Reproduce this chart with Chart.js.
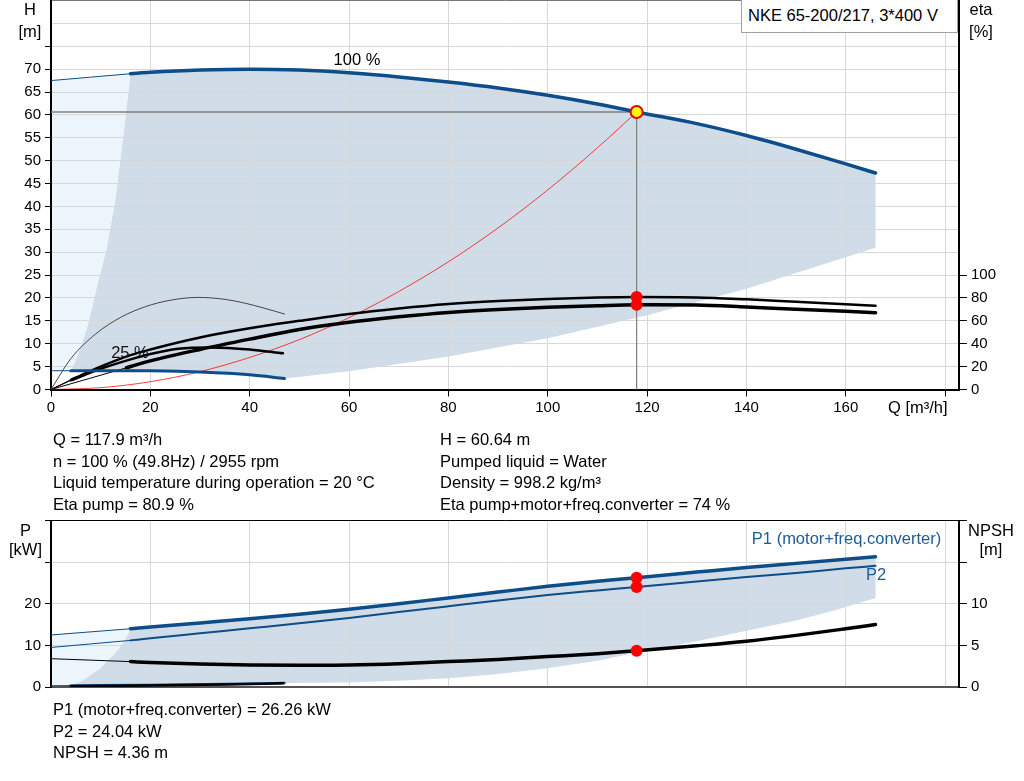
<!DOCTYPE html>
<html>
<head>
<meta charset="utf-8">
<script src="https://cdn.jsdelivr.net/npm/chart.js@4.4.1/dist/chart.umd.min.js"></script>
<style>
body { margin: 0; background: #fff; width: 1024px; height: 781px; overflow: hidden; position: relative;
       font-family: Arial, "Liberation Sans", sans-serif; font-size: 16.5px; color: #000; }
canvas { position: absolute; left: 0; }
#topChart { top: 0; }
#bottomChart { top: 505px; }
.lbl { position: absolute; white-space: nowrap; line-height: 21.5px; }
.ctr { text-align: center; }
#titleBox { position: absolute; left: 741px; top: -1px; width: 217px; height: 34px; border: 1px solid #a0a0a0;
            background: #fff; box-sizing: border-box; padding-left: 6px; line-height: 30px; white-space: nowrap; }
</style>
</head>
<body>
<canvas id="topChart" width="1024" height="420"></canvas>
<canvas id="bottomChart" width="1024" height="200"></canvas>

<div id="titleBox">NKE 65-200/217, 3*400 V</div>
<div class="lbl ctr" style="left:10px; top:-0.75px; width:40px;">H<br>[m]</div>
<div class="lbl ctr" style="left:961px; top:-0.75px; width:40px;">eta<br>[%]</div>
<div class="lbl" style="left:888px; top:396.75px;">Q [m³/h]</div>
<div class="lbl ctr" style="left:0px; top:520.5px; width:51px; line-height:19px;">P<br>[kW]</div>
<div class="lbl ctr" style="left:965px; top:520.5px; width:52px; line-height:19px;">NPSH<br>[m]</div>

<div class="lbl" style="left:53px; top:429.25px;">Q = 117.9 m³/h<br>n = 100 % (49.8Hz) / 2955 rpm<br>Liquid temperature during operation = 20 °C<br>Eta pump = 80.9 %</div>
<div class="lbl" style="left:440px; top:429.25px;">H = 60.64 m<br>Pumped liquid = Water<br>Density = 998.2 kg/m³<br>Eta pump+motor+freq.converter = 74 %</div>
<div class="lbl" style="left:53px; top:699.25px;">P1 (motor+freq.converter) = 26.26 kW<br>P2 = 24.04 kW<br>NPSH = 4.36 m</div>

<script>
// ---- flow axis ----
const qTicks = [0, 20, 40, 60, 80, 100, 120, 140, 160, 180];
const qMax = 182.8;

// ---- head curves (m) ----
const q100 = [16, 20, 30, 40, 50, 60, 70, 80, 90, 100, 110, 117.9, 130, 140, 150, 160, 166];
const h100 = [69.0, 69.3, 69.8, 70.0, 69.8, 69.2, 68.3, 67.2, 65.9, 64.3, 62.4, 60.64, 58.1, 55.5, 52.5, 49.3, 47.3];
const q100Thin = [0, 16];
const h100Thin = [67.5, 69.0];
const q25 = [4, 10, 20, 30, 40, 47];
const h25 = [4.1, 4.1, 4.1, 3.8, 3.2, 2.4];
const q25Thin = [0, 4];
const h25Thin = [4.1, 4.1];

// edges of the operating area (head chart)
const qAreaLeft = [4, 5, 6.2, 7.5, 8.5, 9.5, 11.1, 12.9, 14.5, 16];
const hAreaLeft = [4.1, 6.5, 10, 14.5, 19, 23.7, 30.3, 41.2, 55, 69.0];
const qAreaLow = [47, 60, 80, 100, 120, 140, 166];
const hAreaLow = [2.4, 4.0, 7.2, 11.2, 16.2, 22.0, 31.0];

// system curve through the duty point
const qSys = [0, 10, 20, 30, 40, 50, 60, 70, 80, 90, 100, 110, 117.9];
const hSys = [0, 0.4, 1.7, 3.9, 7.0, 10.9, 15.7, 21.4, 27.9, 35.3, 43.6, 52.8, 60.64];

// ---- efficiency curves (%) ----
const qEtaPump = [4, 10, 16, 20, 30, 40, 50, 60, 70, 80, 90, 100, 110, 117.9, 130, 140, 150, 160, 166];
const etaPump = [8.5, 20, 30, 35, 45.5, 53.5, 60, 66, 70.8, 74.7, 77.3, 79.1, 80.4, 80.9, 80.5, 78.8, 76.7, 74.5, 73.2];
const qEtaPumpThin = [0, 4];
const etaPumpThin = [0, 8.5];
const qEtaTotal = [15.2, 20, 30, 40, 50, 60, 70, 80, 90, 100, 110, 117.9, 130, 140, 150, 160, 166];
const etaTotal = [19, 25, 35, 44, 52.5, 58.7, 63.5, 67.4, 70, 71.8, 73.2, 74, 73.8, 72.1, 70.1, 68.3, 67.1];
const qEtaTotalThin = [0, 15.2];
const etaTotalThin = [0, 19];
const qEta25Pump = [0, 4, 9, 14, 19, 24, 29.6, 35, 39, 43, 47];
const eta25Pump = [0, 27, 48.6, 63, 72.4, 78, 80.5, 78.8, 75.5, 71, 66];
const qEta25Total = [4, 10, 15, 20, 25.6, 32.3, 40, 46.7];
const eta25Total = [8, 18, 25, 31, 35.6, 36.8, 35, 31.6];
const qEta25TotalThin = [0, 4];
const eta25TotalThin = [0, 8];

// ---- power (kW) and NPSH (m) ----
const qP = [16, 20, 30, 40, 50, 60, 70, 80, 90, 100, 110, 117.9, 130, 140, 150, 160, 166];
const p1 = [14.0, 14.4, 15.4, 16.4, 17.5, 18.7, 20.0, 21.4, 22.8, 24.2, 25.4, 26.26, 27.6, 28.7, 29.7, 30.7, 31.3];
const p2 = [11.2, 11.7, 12.9, 14.1, 15.3, 16.6, 18.0, 19.4, 20.8, 22.1, 23.2, 24.04, 25.35, 26.4, 27.4, 28.5, 29.1];
const npsh = [3.05, 2.95, 2.75, 2.65, 2.62, 2.65, 2.8, 3.05, 3.3, 3.65, 4.0, 4.36, 4.95, 5.5, 6.2, 7.0, 7.5];
const qPThin = [0, 16];
const p1Thin = [12.5, 14.0];
const p2Thin = [9.5, 11.2];
const npshThin = [3.4, 3.05];
const qPLow = [4, 20, 35, 47];
const p1Low = [0.35, 0.5, 0.7, 0.95];
const qPLowThin = [0, 4];
const p1LowThin = [0.3, 0.35];
const qNpshLow = [4, 23, 35, 46.7];
const npshLow = [0.1, 0.2, 0.3, 0.45];

// edges of the operating area (power chart)
const qAreaPLeft = [4, 6.5, 9.9, 13.2, 15, 16];
const pAreaLeft = [0.35, 1.7, 4.5, 8.5, 11.5, 14.0];
const qAreaPLow = [47, 60, 70, 80, 90, 100, 110, 118, 130, 140, 150, 158, 166];
const pAreaLow = [0.95, 1.1, 1.5, 2.1, 3.1, 4.5, 6.3, 8.3, 11.0, 13.5, 16.0, 18.5, 21.4];

// ---- duty point ----
const dutyQ = 117.9;
const dutyH = 60.64;
const dutyEtaPump = 80.9;
const dutyEtaTotal = 74;
const dutyP1 = 26.26;
const dutyP2 = 24.04;
const dutyNpsh = 4.36;

const FONT = 'Arial, "Liberation Sans", sans-serif';
const BLUE = 'rgb(12,77,138)';
const GRID = 'rgb(216,216,216)';
const AREA = 'rgb(208,220,231)';
const AREA_LIGHT = 'rgb(237,245,252)';
const NONE = 'rgba(0,0,0,0)';

Chart.defaults.font.family = FONT;
Chart.defaults.font.size = 15;
Chart.defaults.color = '#000';

function pts(xs, ys) {
    return xs.map((x, i) => ({ x: x, y: ys[i] }));
}

function curve(data, color, width, axis, order) {
    return {
        data: data, showLine: true, borderColor: color, borderWidth: width,
        pointRadius: 0, fill: false, cubicInterpolationMode: 'monotone',
        yAxisID: axis || 'y', order: order || 5, borderCapStyle: 'round'
    };
}

function area(data, color) {
    return {
        data: data, showLine: true, borderWidth: 0, borderColor: NONE,
        backgroundColor: color, fill: 'shape', pointRadius: 0, tension: 0, order: 20
    };
}

function dot(x, y, axis, fillColor, border) {
    return {
        data: [{ x: x, y: y }], showLine: false, pointRadius: 6, pointHoverRadius: 6,
        backgroundColor: fillColor, borderColor: border || fillColor, borderWidth: border ? 2 : 0,
        yAxisID: axis || 'y', order: 0
    };
}

// fixed axis sizes, no automatic padding around the plot
function fixSize(w, h) {
    return function (scale) {
        if (w !== null) scale.width = w;
        if (h !== null) scale.height = h;
        scale.paddingTop = 0; scale.paddingBottom = 0;
        scale.paddingLeft = 0; scale.paddingRight = 0;
    };
}

// unlabeled ticks get an empty array so they take no room
function labelUpTo(limit) {
    return v => v <= limit ? v : [];
}

const curveLabels = {
    id: 'curveLabels',
    afterDatasetsDraw(chart, args, opts) {
        const ctx = chart.ctx;
        ctx.save();
        ctx.font = '16.5px ' + FONT;
        ctx.textBaseline = 'middle';
        opts.items.forEach(function (it) {
            ctx.fillStyle = it.color;
            ctx.textAlign = it.align;
            ctx.fillText(it.text, chart.scales.x.getPixelForValue(it.x), chart.scales[it.axis].getPixelForValue(it.y));
        });
        ctx.restore();
    }
};

function xScale(showTicks, h) {
    return {
        type: 'linear', min: 0, max: qMax,
        afterBuildTicks: s => { s.ticks = qTicks.map(v => ({ value: v })); },
        afterFit: fixSize(null, h),
        grid: { color: GRID, tickColor: '#000', tickLength: 7, drawTicks: showTicks },
        border: { color: showTicks ? '#000' : '#555', width: 2 },
        ticks: { display: showTicks, padding: 2, autoSkip: false, maxRotation: 0, callback: labelUpTo(160) }
    };
}

// ---------- top chart: head + efficiency ----------
const topGray = pts(qAreaLeft, hAreaLeft)
    .concat(pts(q100, h100).slice(1))
    .concat(pts(qAreaLow, hAreaLow).reverse())
    .concat(pts(q25, h25).reverse());
const topLight = pts(q100Thin, h100Thin)
    .concat(pts(qAreaLeft, hAreaLeft).reverse())
    .concat(pts(q25Thin, h25Thin).reverse());

new Chart(document.getElementById('topChart'), {
    type: 'scatter',
    data: {
        datasets: [
            area(topLight, AREA_LIGHT),
            area(topGray, AREA),
            curve(pts([0, dutyQ], [dutyH, dutyH]), 'rgb(128,128,128)', 1.5, 'y', 9),
            curve(pts([dutyQ, dutyQ], [0, dutyH]), 'rgb(128,128,128)', 1.2, 'y', 9),
            curve(pts(qSys, hSys), 'rgba(255,0,0,0.75)', 1, 'y', 8),
            curve(pts(qEta25Pump, eta25Pump), 'rgb(70,70,70)', 1, 'y2', 7),
            curve(pts(qEtaPumpThin, etaPumpThin), '#000', 1, 'y2', 7),
            curve(pts(qEtaTotalThin, etaTotalThin), '#000', 1, 'y2', 7),
            curve(pts(qEta25TotalThin, eta25TotalThin), '#000', 1, 'y2', 7),
            curve(pts(qEta25Total, eta25Total), '#000', 2.5, 'y2', 6),
            curve(pts(qEtaPump, etaPump), '#000', 2.5, 'y2', 5),
            curve(pts(qEtaTotal, etaTotal), '#000', 3.5, 'y2', 5),
            curve(pts(q100Thin, h100Thin), BLUE, 1, 'y', 5),
            curve(pts(q25Thin, h25Thin), BLUE, 1, 'y', 5),
            curve(pts(q25, h25), BLUE, 3, 'y', 4),
            curve(pts(q100, h100), BLUE, 3.5, 'y', 4),
            dot(dutyQ, dutyEtaPump, 'y2', 'rgb(255,0,0)'),
            dot(dutyQ, dutyEtaTotal, 'y2', 'rgb(255,0,0)'),
            dot(dutyQ, dutyH, 'y', 'rgb(255,255,0)', 'rgb(230,0,0)')
        ]
    },
    options: {
        responsive: false, animation: false, events: [],
        layout: { autoPadding: false, padding: { top: 0.5, left: 0, right: 0, bottom: 0 } },
        plugins: {
            legend: { display: false }, tooltip: { enabled: false },
            filler: { drawTime: 'beforeDraw' },
            curveLabels: { items: [
                { text: '100 %', x: 61.6, y: 72.0, axis: 'y', color: '#000', align: 'center' },
                { text: '25 %', x: 15.9, y: 7.8, axis: 'y', color: '#111', align: 'center' }
            ] }
        },
        scales: {
            x: xScale(true, 30.5),
            y: {
                type: 'linear', position: 'left', min: 0, max: 85,
                afterFit: fixSize(51, null),
                grid: { color: c => c.tick && c.tick.value === 85 ? '#777' : GRID,
                        tickColor: c => c.tick && c.tick.value > 75 ? NONE : '#000', tickLength: 6 },
                border: { color: '#000', width: 2 },
                ticks: { stepSize: 5, padding: 4, autoSkip: false, callback: labelUpTo(70) }
            },
            y2: {
                type: 'linear', position: 'right', min: 0, max: 340,
                afterBuildTicks: s => { s.ticks = [0, 20, 40, 60, 80, 100, 340].map(v => ({ value: v })); },
                afterFit: fixSize(65, null),
                grid: { drawOnChartArea: false, tickColor: c => c.tick && c.tick.value > 100 ? NONE : '#000', tickLength: 8 },
                border: { color: '#000', width: 2 },
                ticks: { padding: 4, autoSkip: false, callback: labelUpTo(100) }
            }
        }
    },
    plugins: [curveLabels]
});

// ---------- bottom chart: power + NPSH ----------
const botGray = pts(qAreaPLeft, pAreaLeft)
    .concat(pts(qP, p1).slice(1))
    .concat(pts(qAreaPLow, pAreaLow).reverse())
    .concat(pts(qPLow, p1Low).reverse());
const botLight = pts(qPThin, p1Thin)
    .concat(pts(qAreaPLeft, pAreaLeft).reverse())
    .concat(pts(qPLowThin, p1LowThin).reverse());

new Chart(document.getElementById('bottomChart'), {
    type: 'scatter',
    data: {
        datasets: [
            area(botLight, AREA_LIGHT),
            area(botGray, AREA),
            curve(pts(qPThin, p1Thin), BLUE, 1, 'y', 7),
            curve(pts(qPThin, p2Thin), BLUE, 1, 'y', 7),
            curve(pts(qPThin, npshThin), '#000', 1, 'y2', 7),
            curve(pts(qPLowThin, p1LowThin), BLUE, 1, 'y', 7),
            curve(pts(qPLow, p1Low), BLUE, 2.5, 'y', 6),
            curve(pts(qNpshLow, npshLow), '#000', 2.5, 'y2', 5),
            curve(pts(qP, p2), BLUE, 2, 'y', 5),
            curve(pts(qP, p1), BLUE, 3.5, 'y', 5),
            curve(pts(qP, npsh), '#000', 3.5, 'y2', 5),
            dot(dutyQ, dutyP1, 'y', 'rgb(255,0,0)'),
            dot(dutyQ, dutyP2, 'y', 'rgb(255,0,0)'),
            dot(dutyQ, dutyNpsh, 'y2', 'rgb(255,0,0)')
        ]
    },
    options: {
        responsive: false, animation: false, events: [],
        layout: { autoPadding: false, padding: { top: 15.5, left: 0, right: 0, bottom: 0 } },
        plugins: {
            legend: { display: false }, tooltip: { enabled: false },
            filler: { drawTime: 'beforeDraw' },
            curveLabels: { items: [
                { text: 'P1 (motor+freq.converter)', x: 141.1, y: 35.4, axis: 'y', color: 'rgb(30,90,150)', align: 'left' },
                { text: 'P2', x: 164.1, y: 26.7, axis: 'y', color: 'rgb(30,90,150)', align: 'left' }
            ] }
        },
        scales: {
            x: xScale(false, 18),
            y: {
                type: 'linear', position: 'left', min: 0, max: 40,
                afterFit: fixSize(51, null),
                grid: { color: c => c.tick && c.tick.value === 40 ? '#000' : GRID, tickColor: '#000', tickLength: 6 },
                border: { color: '#000', width: 2 },
                ticks: { stepSize: 10, padding: 4, autoSkip: false, callback: labelUpTo(20) }
            },
            y2: {
                type: 'linear', position: 'right', min: 0, max: 20,
                afterFit: fixSize(65, null),
                grid: { drawOnChartArea: false, tickColor: '#000', tickLength: 8 },
                border: { color: '#000', width: 2 },
                ticks: { stepSize: 5, padding: 4, autoSkip: false, callback: labelUpTo(10) }
            }
        }
    },
    plugins: [curveLabels]
});
</script>
</body>
</html>
